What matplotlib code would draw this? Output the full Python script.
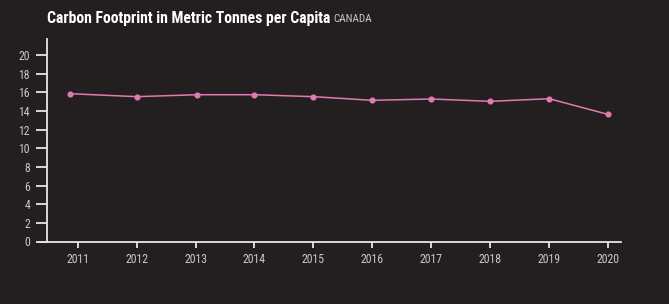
import pandas as pd
import matplotlib
matplotlib.use("Agg")
import matplotlib.pyplot as plt
import matplotlib.dates as mdates
from matplotlib import font_manager

# ========= data =========
dates = ["2010-11-15", "2012-01-01", "2013-01-10", "2014-01-01", "2015-01-01",
         "2016-01-01", "2017-01-01", "2018-01-01", "2019-01-01", "2020-01-01"]
tonnes = [15.84, 15.52, 15.73, 15.73, 15.52, 15.13, 15.27, 15.02, 15.30, 13.62]
tick_years = list(range(2011, 2021))
y_ticks = list(range(0, 21, 2))

# ========= fonts =========
names = {f.name for f in font_manager.fontManager.ttflist}
FONT = "DejaVu Sans"
for cand in ["Roboto Condensed", "Open Sans Condensed", "DejaVu Sans Condensed",
             "Liberation Sans Narrow", "Noto Sans"]:
    if cand in names:
        FONT = cand
        break
plt.rcParams["font.family"] = [FONT, "DejaVu Sans"]

BG = "#231f20"
PINK = "#e07ab1"
AXIS = "#e6e6e6"
LABEL = "#c9c9c9"

x = pd.to_datetime(dates)

fig = plt.figure(figsize=(6.69, 3.04), dpi=100, facecolor=BG)
W, H = 669, 304
ax = fig.add_axes([40 / W, (H - 241.5) / H, 580.5 / W, 202.5 / H])
ax.set_facecolor(BG)

ax.plot(x, tonnes, color=PINK, lw=1.1, marker="o", ms=3.4, mec=PINK, mfc=PINK)

xmin = pd.Timestamp("2010-05-13")
xmax = pd.Timestamp("2020-03-18")
ax.set_xlim(xmin, xmax)
ax.set_ylim(0, 21.7)

ax.set_xticks([pd.Timestamp(f"{y}-01-01") for y in tick_years])
ax.xaxis.set_major_formatter(mdates.DateFormatter("%Y"))
ax.set_yticks(y_ticks)

for s in ["top", "right"]:
    ax.spines[s].set_visible(False)
for s in ["left", "bottom"]:
    ax.spines[s].set_color(AXIS)
    ax.spines[s].set_linewidth(1.3)
ax.spines["left"].set_position(("axes", 6.7 / 580.5))

ax.tick_params(axis="y", length=8, width=1.3, color=AXIS, labelcolor=LABEL,
               labelsize=8.5, pad=4)
ax.tick_params(axis="x", length=4.5, width=1.3, color=AXIS, labelcolor=LABEL,
               labelsize=8.5, pad=4)

t = fig.text(47 / W, 1 - 22.5 / H, "Carbon Footprint in Metric Tonnes per Capita",
             color="white", fontsize=11.3, fontweight="bold", ha="left", va="baseline")
fig.canvas.draw()
bb = t.get_window_extent()
fig.text((bb.x1 + 3) / W, 1 - 22.5 / H, "CANADA", color=LABEL, fontsize=8,
         ha="left", va="baseline")

fig.savefig("out.png", dpi=100, facecolor=BG)
